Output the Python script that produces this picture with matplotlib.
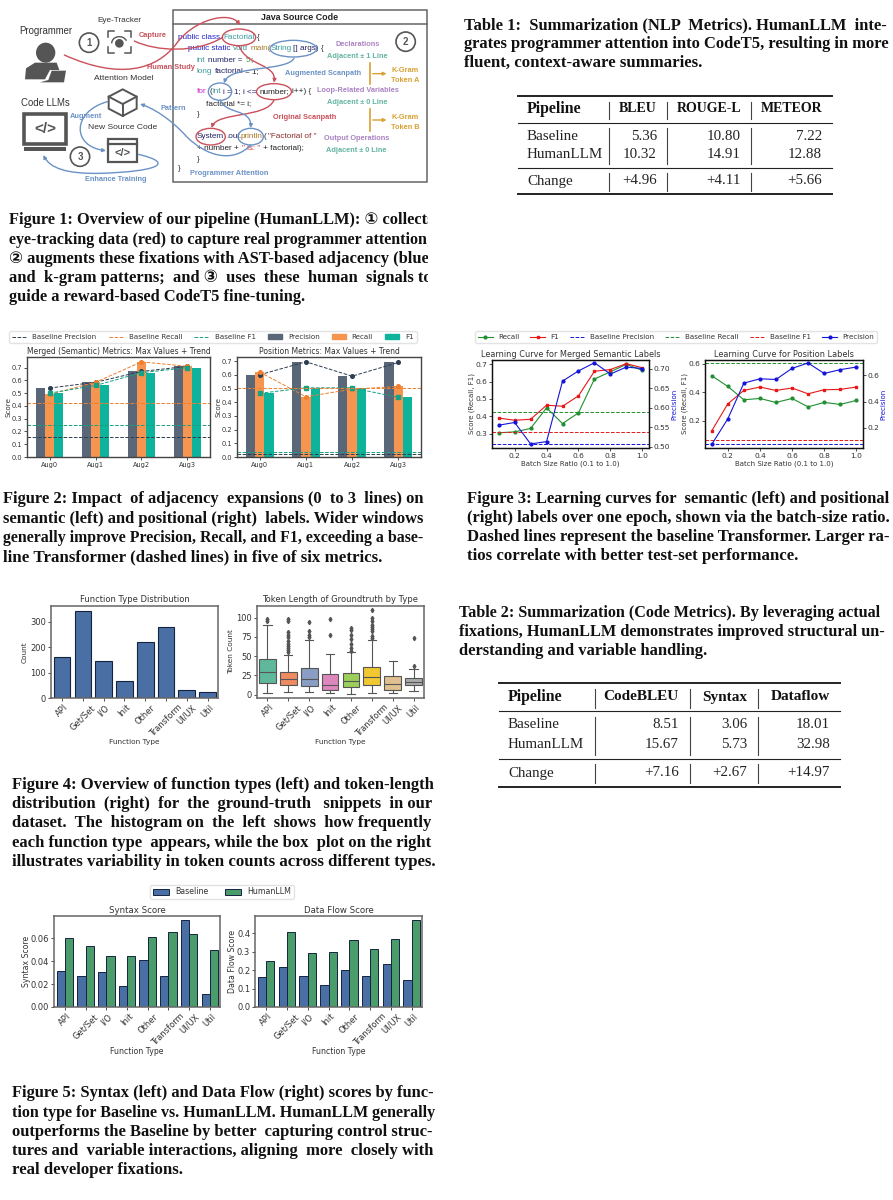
import matplotlib
matplotlib.use('Agg')
import matplotlib.pyplot as plt
import numpy as np
from matplotlib.patches import Rectangle, Ellipse, FancyArrowPatch, Polygon, Arc
from matplotlib.path import Path
from matplotlib.lines import Line2D
from matplotlib.transforms import Bbox

W, H = 893, 1200
SERIF = ['Liberation Serif', 'DejaVu Sans']
SANS = 'Liberation Sans'
TXT = '#333333'

# --- fig 2 data
augs = ['Aug0', 'Aug1', 'Aug2', 'Aug3']
sem_precision = [0.54, 0.585, 0.67, 0.71]
sem_recall = [0.49, 0.585, 0.745, 0.71]
sem_f1 = [0.50, 0.56, 0.66, 0.70]
sem_base = [0.16, 0.425, 0.25]
pos_precision = [0.60, 0.695, 0.59, 0.69]
pos_recall = [0.62, 0.44, 0.495, 0.515]
pos_f1 = [0.465, 0.505, 0.505, 0.435]
pos_base = [0.02, 0.505, 0.04]

# --- fig 3 data
ratios = [0.1, 0.2, 0.3, 0.4, 0.5, 0.6, 0.7, 0.8, 0.9, 1.0]
lc_sem_recall = [0.305, 0.31, 0.33, 0.449, 0.358, 0.42, 0.615, 0.657, 0.70, 0.665]
lc_sem_f1 = [0.39, 0.377, 0.383, 0.464, 0.458, 0.518, 0.66, 0.67, 0.704, 0.68]
lc_sem_precision = [0.555, 0.562, 0.507, 0.513, 0.668, 0.694, 0.715, 0.686, 0.704, 0.70]
lc_sem_base = [0.238, 0.426, 0.307]
lc_pos_recall = [0.517, 0.441, 0.347, 0.356, 0.328, 0.356, 0.297, 0.328, 0.314, 0.342]
lc_pos_f1 = [0.127, 0.318, 0.413, 0.437, 0.413, 0.43, 0.389, 0.418, 0.42, 0.437]
lc_pos_precision = [0.072, 0.267, 0.541, 0.574, 0.569, 0.654, 0.695, 0.615, 0.644, 0.664]
lc_pos_base = [0.033, 0.605, 0.065]

# --- fig 4 data
func_types = ['API', 'Get/Set', 'I/O', 'Init', 'Other', 'Transform', 'UI/UX', 'Util']
type_counts = [162, 345, 146, 66, 222, 282, 31, 24]
box_q1 = [15, 12, 11, 6, 10, 12, 6, 13]
box_med = [29, 20, 20, 13, 18, 23, 14, 17]
box_q3 = [46, 29, 35, 27, 28, 36, 24, 22]
box_lo = [2, 3, 3, 2, 1, 2, 2, 5]
box_hi = [90, 51, 71, 53, 55, 71, 44, 33]
box_fliers = [[96, 98],
              [55, 58, 60, 63, 66, 70, 75, 78, 81, 96, 98],
              [75, 78, 82, 94],
              [77, 98],
              [57, 60, 66, 72, 78, 84, 86],
              [74, 76, 82, 85, 88, 91, 95, 99, 110],
              [],
              [37, 74]]
box_colors = ['#5fb89c', '#f08a60', '#8a9dc4', '#de87bd', '#9ccf5a', '#f0c832', '#e0bf90', '#ababab']

# --- fig 5 data
syntax_base = [0.0315, 0.0275, 0.0303, 0.0185, 0.041, 0.0267, 0.076, 0.011]
syntax_human = [0.0603, 0.0533, 0.0445, 0.0445, 0.061, 0.0658, 0.064, 0.05]
flow_base = [0.16, 0.217, 0.17, 0.117, 0.198, 0.165, 0.234, 0.148]
flow_human = [0.25, 0.404, 0.29, 0.297, 0.362, 0.315, 0.367, 0.468]

# --- tables
t1_cols = ['Pipeline', 'BLEU', 'ROUGE-L', 'METEOR']
t1_rows = [['Baseline', '5.36', '10.80', '7.22'],
           ['HumanLLM', '10.32', '14.91', '12.88'],
           ['Change', '+4.96', '+4.11', '+5.66']]
t2_cols = ['Pipeline', 'CodeBLEU', 'Syntax', 'Dataflow']
t2_rows = [['Baseline', '8.51', '3.06', '18.01'],
           ['HumanLLM', '15.67', '5.73', '32.98'],
           ['Change', '+7.16', '+2.67', '+14.97']]

# --- captions
cap1 = ['Figure 1: Overview of our pipeline (HumanLLM): \u2460 collects',
        'eye-tracking data (red) to capture real programmer attention;',
        '\u2461 augments these fixations with AST-based adjacency (blue)',
        'and k-gram patterns; and \u2462 uses these human signals to',
        'guide a reward-based CodeT5 fine-tuning.']
cap2 = ['Figure 2: Impact of adjacency expansions (0 to 3 lines) on',
        'semantic (left) and positional (right) labels. Wider windows',
        'generally improve Precision, Recall, and F1, exceeding a base-',
        'line Transformer (dashed lines) in five of six metrics.']
cap3 = ['Figure 3: Learning curves for semantic (left) and positional',
        '(right) labels over one epoch, shown via the batch-size ratio.',
        'Dashed lines represent the baseline Transformer. Larger ra-',
        'tios correlate with better test-set performance.']
cap4 = ['Figure 4: Overview of function types (left) and token-length',
        'distribution (right) for the ground-truth snippets in our',
        'dataset. The histogram on the left shows how frequently',
        'each function type appears, while the box plot on the right',
        'illustrates variability in token counts across different types.']
cap5 = ['Figure 5: Syntax (left) and Data Flow (right) scores by func-',
        'tion type for Baseline vs. HumanLLM. HumanLLM generally',
        'outperforms the Baseline by better capturing control struc-',
        'tures and variable interactions, aligning more closely with',
        'real developer fixations.']
tcap1 = ['Table 1: Summarization (NLP Metrics). HumanLLM inte-',
         'grates programmer attention into CodeT5, resulting in more',
         'fluent, context-aware summaries.']
tcap2 = ['Table 2: Summarization (Code Metrics). By leveraging actual',
         'fixations, HumanLLM demonstrates improved structural un-',
         'derstanding and variable handling.']

fig = plt.figure(figsize=(W / 100, H / 100), dpi=100, facecolor='white')
renderer = fig.canvas.get_renderer()


def px_axes(x0, y0, x1, y1):
    return fig.add_axes([x0 / W, 1 - y1 / H, (x1 - x0) / W, (y1 - y0) / H])


def style(ax, spine='#555555', lw=1.0, ticksize=5, color=TXT):
    for s in ax.spines.values():
        s.set_color(spine)
        s.set_linewidth(lw)
    ax.tick_params(labelsize=ticksize, length=2, width=0.6, pad=1.5, colors=color)


# page overlay for captions and tables, in pixels
page = fig.add_axes([0, 0, 1, 1], zorder=5)
page.set_xlim(0, W)
page.set_ylim(H, 0)
page.axis('off')
page.patch.set_alpha(0)


def fit_line(t, line, target, size):
    # widen the word gaps like justified text, then a small font fit for the rest
    words = line.split(' ')
    gaps = [1] * (len(words) - 1)
    k = 0
    while t.get_window_extent(renderer).width < target - 3 and k < 60:
        k += 1
        idx = int((k * 0.618 % 1) * len(gaps))
        gaps[idx] += 1
        t.set_text(''.join(w + ' ' * g for w, g in zip(words, gaps + [0])))
        if t.get_window_extent(renderer).width > target:
            gaps[idx] -= 1
            t.set_text(''.join(w + ' ' * g for w, g in zip(words, gaps + [0])))
            break
    t.set_fontsize(size * target / t.get_window_extent(renderer).width)


def caption(lines, x0, x1, ys, last_w, size=11.9, clip_x=None):
    for i, (line, y) in enumerate(zip(lines, ys)):
        t = page.text(x0, y, line, family=SERIF, weight='bold', fontsize=size,
                      color='#111111', va='center', ha='left')
        if i < len(lines) - 1:
            fit_line(t, line, x1 - x0, size)
        else:
            t.set_fontsize(size * last_w / t.get_window_extent(renderer).width)
        if clip_x is not None:
            t.set_clip_on(True)
            t.set_clip_box(Bbox([[0, 0], [clip_x, H]]))


caption(cap1, 9, 433, [220, 240, 259, 278, 297], 296, clip_x=428)
caption(cap2, 3, 424, [499, 519, 538, 557], 377)
caption(cap3, 467, 890, [499, 518, 537, 556], 330)
caption(cap4, 12, 433, [785, 804, 823, 843, 862], 421)
caption(cap5, 12, 433, [1093, 1113, 1132, 1151, 1170], 171)
caption(tcap1, 464, 888, [25, 44, 63], 238)
caption(tcap2, 459, 882, [613, 632, 651], 248)


def table(cols, rows, x0, x1, rules, vlines, spans, left, rights, ys, head):
    for i, y in enumerate(rules):
        page.plot([x0, x1], [y, y], color='#222222', lw=1.4 if i in (0, 3) else 0.8)
    for v in vlines:
        for a, b in spans:
            page.plot([v, v], [a, b], color='#444444', lw=0.8)
    xs = [left] + rights
    for j, c in enumerate(cols):
        page.text(xs[j], ys[0], c, family=SERIF, weight='bold', fontsize=11.4 if j == 0 else head,
                  color='#111111', va='center', ha='left' if j == 0 else 'right')
    for i, row in enumerate(rows):
        for j, c in enumerate(row):
            page.text(xs[j], ys[i + 1], c, family=SERIF, fontsize=10.8, color='#222222',
                      va='center', ha='left' if j == 0 else 'right')


table(t1_cols, t1_rows, 518, 832, [96, 123, 168, 194], [609, 667, 751],
      [(102, 119), (128, 164), (173, 191)], 527, [657, 741, 822], [109, 136, 154, 181], 10.0)
table(t2_cols, t2_rows, 499, 840, [683, 711, 759, 787], [595, 690, 758],
      [(689, 708), (717, 755), (764, 783)], 508, [679, 747, 830], [697, 725, 745, 773], 11.0)

# --- figure 1 schematic, drawn in zoomed pixel units (3x)
dg = px_axes(0, 0, 445, 200)
dg.set_xlim(0, 1335)
dg.set_ylim(600, 0)
dg.axis('off')
RED = '#c9505a'
BLUE = '#6a92c6'
PURPLE = '#ab82c4'
TEAL = '#62b5a2'
ORANGE = '#d9a033'
GREY = '#555555'


def lab(x, y, s, color=TXT, size=5.6, weight='normal', ha='center'):
    dg.text(x, y, s, color=color, fontsize=size, weight=weight, family=SANS, ha=ha, va='center')


def curve(pts, color, arrow=True, lw=1.0):
    codes = [Path.MOVETO] + [Path.CURVE4] * (len(pts) - 1)
    dg.add_patch(FancyArrowPatch(path=Path(pts, codes), arrowstyle='-|>' if arrow else '-',
                                 mutation_scale=5, color=color, lw=lw, zorder=4))


dg.add_patch(Rectangle((520, 30), 760, 515, fc='none', ec='#666666', lw=1.1))
dg.plot([520, 1280], [72, 72], color='#666666', lw=1.1)
lab(898, 53, 'Java Source Code', '#222222', 6.4, 'bold')

for label, x, y, sz in [('Programmer', 137, 94, 6.9), ('Eye-Tracker', 358, 63, 5.9), ('Attention Model', 370, 235, 6.1),
                        ('Code LLMs', 137, 308, 6.9), ('New Source Code', 368, 383, 6.1)]:
    lab(x, y, label, '#333333', sz)
for n, x, y in [('1', 267, 128), ('2', 1217, 125), ('3', 240, 470)]:
    dg.add_patch(Ellipse((x, y), 58, 58, fc='white', ec=GREY, lw=1.2))
    lab(x, y, n, GREY, 7, 'bold')

# programmer icon
dg.add_patch(Ellipse((137, 158), 58, 60, fc=GREY, ec='none'))
dg.add_patch(Polygon([(75, 238), (78, 205), (105, 188), (170, 188), (178, 210), (150, 210), (135, 238)],
                     fc=GREY, ec='none'))
dg.add_patch(Polygon([(155, 212), (198, 212), (192, 247), (120, 247), (145, 240)], fc=GREY, ec='none'))

# eye tracker icon
for cx, cy, dx, dy in [(323, 92, 1, 1), (393, 92, -1, 1), (323, 158, 1, -1), (393, 158, -1, -1)]:
    dg.plot([cx + 18 * dx, cx, cx], [cy, cy, cy + 18 * dy], color=GREY, lw=1.1)
dg.add_patch(Ellipse((358, 130), 26, 26, fc=GREY, ec='none'))
dg.add_patch(Arc((358, 130), 46, 40, theta1=180, theta2=340, color=GREY, lw=1.0))

# cube icon
dg.add_patch(Polygon([(368, 268), (410, 290), (410, 326), (368, 348), (326, 326), (326, 290)],
                     fc='none', ec=GREY, lw=1.4))
dg.plot([326, 368, 410], [290, 312, 290], color=GREY, lw=1.4)
dg.plot([368, 368], [312, 348], color=GREY, lw=1.4)

# monitor icon
dg.add_patch(Rectangle((73, 342), 125, 90, fc='white', ec=GREY, lw=2.6))
dg.add_patch(Rectangle((73, 440), 125, 12, fc=GREY, ec='none'))
lab(135, 388, '</>', GREY, 11, 'bold')

# new source code icon
dg.add_patch(Rectangle((325, 416), 85, 70, fc='white', ec=GREY, lw=1.6))
dg.plot([325, 410], [433, 433], color=GREY, lw=1.6)
lab(367, 460, '</>', GREY, 8, 'bold')

NAVY = '#222266'
CODE = '#2222cc'
CTEAL = '#3a9a9a'
BROWN = '#a87a2a'
code_tokens = [
    (535, 112, 'public class', CODE), (671, 112, 'Factorial', CTEAL), (772, 112, '{', '#222222'),
    (563, 146, 'public static', CODE), (700, 146, 'void', CTEAL), (753, 146, 'main(', BROWN),
    (812, 146, 'String', CTEAL), (880, 146, '[] args)', NAVY), (963, 146, '{', '#222222'),
    (590, 180, 'int', CTEAL), (623, 180, 'number =', NAVY), (738, 180, '5', '#3a9a3a'), (750, 180, ';', '#222222'),
    (590, 214, 'long', CTEAL), (645, 214, 'factorial', NAVY), (735, 214, '= 1;', '#222222'),
    (590, 275, 'for', '#cc22cc'), (628, 275, '(', '#222222'), (637, 275, 'int', CTEAL),
    (668, 275, 'i = 1; i <=', NAVY), (778, 275, 'number;', '#222222'), (875, 275, 'i++) {', '#222222'),
    (617, 310, 'factorial *= i;', '#222222'), (590, 345, '}', '#222222'),
    (590, 409, 'System', NAVY), (680, 409, '.out.', NAVY), (722, 409, 'println', BROWN), (790, 409, '(', '#222222'),
    (803, 409, '"Factorial of "', '#8a2a2a'),
    (590, 444, '+ number +', '#222222'), (725, 444, '" is: "', '#cc3333'), (790, 444, '+ factorial);', '#222222'),
    (590, 478, '}', '#222222'), (535, 507, '}', '#222222'),
]
for x, y, s, c in code_tokens:
    lab(x, y, s, c, 5.9, ha='left')

for x, y, w, h, c in [(717, 112, 100, 50, RED), (880, 146, 140, 50, BLUE), (660, 275, 70, 52, BLUE),
                      (822, 275, 105, 48, RED), (632, 410, 88, 50, RED), (752, 410, 76, 50, BLUE)]:
    dg.add_patch(Ellipse((x, y), w, h, fc='none', ec=c, lw=1.0, zorder=4))

# scanpaths
curve([(193, 165), (360, 240), (470, 210), (530, 130), (580, 60), (690, 30), (720, 75)], RED)
curve([(403, 123), (470, 155), (590, 160), (668, 112)], RED, arrow=False)
curve([(717, 137), (740, 200), (830, 190), (822, 248)], RED)
curve([(822, 300), (800, 355), (650, 335), (635, 384)], RED)
curve([(882, 175), (860, 215), (690, 195), (672, 250)], BLUE)
curve([(660, 300), (680, 345), (755, 325), (752, 384)], BLUE)
curve([(752, 435), (700, 490), (620, 470), (560, 410), (510, 355), (460, 325), (420, 312)], BLUE)
curve([(322, 305), (215, 335), (215, 440), (318, 452)], BLUE)
curve([(415, 463), (530, 490), (470, 515), (300, 520), (200, 522), (150, 505), (130, 465)], BLUE)

for x, y, s, c in [(1073, 135, 'Declarations', PURPLE), (1073, 169, 'Adjacent \u00b1 1 Line', TEAL),
                   (968, 221, 'Augmented Scanpath', BLUE), (1215, 210, 'K-Gram', ORANGE),
                   (1215, 241, 'Token A', ORANGE), (1073, 272, 'Loop-Related Variables', PURPLE),
                   (1073, 308, 'Adjacent \u00b1 0 Line', TEAL), (915, 353, 'Original Scanpath', RED),
                   (1215, 352, 'K-Gram', ORANGE), (1215, 383, 'Token B', ORANGE),
                   (1070, 414, 'Output Operations', PURPLE), (1070, 450, 'Adjacent \u00b1 0 Line', TEAL),
                   (687, 520, 'Programmer Attention', BLUE), (346, 539, 'Enhance Training', BLUE),
                   (258, 350, 'Augment', BLUE), (521, 325, 'Pattern', BLUE),
                   (458, 106, 'Capture', RED), (513, 203, 'Human Study', RED)]:
    lab(x, y, s, c, 5.3, 'bold')
for y0, y1 in [(190, 252), (328, 392)]:
    ym = (y0 + y1) / 2
    dg.plot([1110, 1110], [y0, y1], color=ORANGE, lw=1.2)
    dg.add_patch(FancyArrowPatch((1110, ym), (1168, ym), arrowstyle='-|>', mutation_scale=5, color=ORANGE, lw=1.0))

# --- figure 2
P_COL, R_COL, F_COL = '#5a6778', '#f5954f', '#0db39a'
P_DK, R_DK, F_DK = '#2c3e50', '#f07f2e', '#16a085'


def metric_axes(box, title, prec, rec, f1, base, ymax, yticks):
    ax = px_axes(*box)
    x = np.arange(len(augs))
    w = 0.2
    ax.bar(x - w, prec, w, color=P_COL)
    ax.bar(x, rec, w, color=R_COL)
    ax.bar(x + w, f1, w, color=F_COL)
    ax.plot(x, prec, '--o', color=P_DK, lw=0.7, ms=2.6)
    ax.plot(x, rec, '--o', color=R_DK, lw=0.7, ms=2.6)
    ax.plot(x, f1, '--s', color=F_DK, lw=0.7, ms=2.6)
    for v, c in zip(base, [P_DK, R_DK, F_DK]):
        ax.axhline(v, color=c, ls='--', lw=0.7)
    ax.set_xlim(-0.49, 3.49)
    ax.set_ylim(0, ymax)
    ax.set_xticks(x, augs)
    ax.set_yticks(yticks)
    ax.set_ylabel('Score', fontsize=5.1, color=TXT, labelpad=-0.2)
    ax.set_title(title, fontsize=5.5, color=TXT, pad=2.5)
    style(ax, spine='#444444', ticksize=4.8)


metric_axes((27, 357, 210, 457), 'Merged (Semantic) Metrics: Max Values + Trend',
            sem_precision, sem_recall, sem_f1, sem_base, 0.783, np.arange(0, 0.71, 0.1))
metric_axes((237, 357, 421, 457), 'Position Metrics: Max Values + Trend',
            pos_precision, pos_recall, pos_f1, pos_base, 0.73, np.arange(0, 0.71, 0.1))

h2 = [Line2D([], [], color=P_DK, ls='--', lw=0.7), Line2D([], [], color=R_DK, ls='--', lw=0.7),
      Line2D([], [], color=F_DK, ls='--', lw=0.7), Rectangle((0, 0), 1, 1, color=P_COL),
      Rectangle((0, 0), 1, 1, color=R_COL), Rectangle((0, 0), 1, 1, color=F_COL)]
fig.legend(h2, ['Baseline Precision', 'Baseline Recall', 'Baseline F1', 'Precision', 'Recall', 'F1'],
           ncol=6, fontsize=5.1, loc='center', bbox_to_anchor=(213 / W, 1 - 337 / H), columnspacing=1.7,
           handlelength=2.0, handletextpad=0.85, borderpad=0.4, labelcolor=TXT, edgecolor='#dddddd',
           fancybox=True, framealpha=0.8)

# --- figure 3
G_LC, R_LC, B_LC = '#1f8f2f', '#e81818', '#1414d8'


def curve_axes(box, title, rec, f1, prec, base, lims, rlims, lticks, rticks, rfmt):
    ax = px_axes(*box)
    ax.plot(ratios, rec, '-o', color=G_LC, lw=0.8, ms=2)
    ax.plot(ratios, f1, '-s', color=R_LC, lw=0.8, ms=2)
    ax.axhline(base[0], color=B_LC, ls='--', lw=0.7)
    ax.axhline(base[1], color=G_LC, ls='--', lw=0.7)
    ax.axhline(base[2], color=R_LC, ls='--', lw=0.7)
    ax.set_xlim(0.058, 1.042)
    ax.set_ylim(*lims)
    ax.set_xticks([0.2, 0.4, 0.6, 0.8, 1.0])
    ax.set_yticks(lticks)
    ax.set_xlabel('Batch Size Ratio (0.1 to 1.0)', fontsize=5, color=TXT, labelpad=1)
    ax.set_ylabel('Score (Recall, F1)', fontsize=5, color=TXT, labelpad=0)
    ax.set_title(title, fontsize=5.85, color=TXT, pad=2.5)
    style(ax, spine='#111111', lw=0.9, ticksize=5.4)
    tw = ax.twinx()
    tw.plot(ratios, prec, '-o', color=B_LC, lw=0.8, ms=2)
    tw.set_ylim(*rlims)
    tw.set_yticks(rticks, [rfmt % v for v in rticks])
    tw.set_ylabel('Precision', fontsize=5, color=B_LC, labelpad=0.5)
    style(tw, spine='#111111', lw=0.9, ticksize=5.4)


curve_axes((492, 360, 649, 448), 'Learning Curve for Merged Semantic Labels',
           lc_sem_recall, lc_sem_f1, lc_sem_precision, lc_sem_base, (0.217, 0.725), (0.4966, 0.722),
           [0.3, 0.4, 0.5, 0.6, 0.7], [0.50, 0.55, 0.60, 0.65, 0.70], '%.2f')
curve_axes((705, 360, 863, 448), 'Learning Curve for Position Labels',
           lc_pos_recall, lc_pos_f1, lc_pos_precision, lc_pos_base, (0.006, 0.628), (0.044, 0.718),
           [0.2, 0.4, 0.6], [0.2, 0.4, 0.6], '%.1f')

h3 = [Line2D([], [], color=G_LC, marker='o', ms=2, lw=0.8), Line2D([], [], color=R_LC, marker='s', ms=2, lw=0.8),
      Line2D([], [], color=B_LC, ls='--', lw=0.7), Line2D([], [], color=G_LC, ls='--', lw=0.7),
      Line2D([], [], color=R_LC, ls='--', lw=0.7), Line2D([], [], color=B_LC, marker='o', ms=2, lw=0.8)]
fig.legend(h3, ['Recall', 'F1', 'Baseline Precision', 'Baseline Recall', 'Baseline F1', 'Precision'],
           ncol=6, fontsize=5.1, loc='center', bbox_to_anchor=(676 / W, 1 - 337 / H), columnspacing=1.6,
           handlelength=2.1, handletextpad=0.7, borderpad=0.4, labelcolor=TXT, edgecolor='#dddddd',
           fancybox=True, framealpha=0.8)

# --- figure 4
BAR_BLUE, BAR_GREEN, BAR_EDGE = '#4a6fa5', '#4a9c6a', '#14233f'
x8 = np.arange(len(func_types))

ax4a = px_axes(51, 606, 218, 698)
ax4a.bar(x8, type_counts, 0.8, color=BAR_BLUE, edgecolor=BAR_EDGE, lw=0.8)
ax4a.set_xlim(-0.53, 7.5)
ax4a.set_ylim(0, 363)
ax4a.set_yticks([0, 100, 200, 300])
ax4a.set_xticks(x8, func_types, rotation=45)
ax4a.set_ylabel('Count', fontsize=5.3, color=TXT, labelpad=2)
ax4a.set_xlabel('Function Type', fontsize=5.3, color=TXT, labelpad=0.5)
ax4a.set_title('Function Type Distribution', fontsize=6, color=TXT, pad=3)
style(ax4a, spine='#666666', lw=1.1, ticksize=6)

ax4b = px_axes(257, 606, 424, 698)
stats = [dict(q1=box_q1[i], med=box_med[i], q3=box_q3[i], whislo=box_lo[i], whishi=box_hi[i],
              fliers=box_fliers[i]) for i in range(len(func_types))]
bp = ax4b.bxp(stats, positions=x8, widths=0.8, patch_artist=True,
              boxprops=dict(edgecolor='#555555', lw=0.8),
              medianprops=dict(color='#555555', lw=0.8),
              whiskerprops=dict(color='#555555', lw=0.8),
              capprops=dict(color='#555555', lw=0.8),
              flierprops=dict(marker='d', ms=2.2, mfc='#555555', mec='#555555'))
for b, c in zip(bp['boxes'], box_colors):
    b.set_facecolor(c)
ax4b.set_xlim(-0.5, 7.5)
ax4b.set_ylim(-4.3, 115)
ax4b.set_yticks([0, 25, 50, 75, 100])
ax4b.set_xticks(x8, func_types, rotation=45)
ax4b.set_ylabel('Token Count', fontsize=5.3, color=TXT, labelpad=1.5)
ax4b.set_xlabel('Function Type', fontsize=5.3, color=TXT, labelpad=0.5)
ax4b.set_title('Token Length of Groundtruth by Type', fontsize=6, color=TXT, pad=3)
style(ax4b, spine='#666666', lw=1.1, ticksize=6)


# --- figure 5
def score_axes(box, title, base, human, ymax, yticks, fmt):
    ax = px_axes(*box)
    ax.bar(x8 - 0.2, base, 0.4, color=BAR_BLUE, edgecolor=BAR_EDGE, lw=0.7)
    ax.bar(x8 + 0.2, human, 0.4, color=BAR_GREEN, edgecolor=BAR_EDGE, lw=0.7)
    ax.set_xlim(-0.53, 7.49)
    ax.set_ylim(0, ymax)
    ax.set_yticks(yticks, [fmt % v for v in yticks])
    ax.set_xticks(x8, func_types, rotation=45)
    ax.set_ylabel(title, fontsize=5.6, color=TXT, labelpad=0)
    ax.set_xlabel('Function Type', fontsize=5.6, color=TXT, labelpad=-0.5)
    ax.set_title(title, fontsize=6.2, color=TXT, pad=2.5)
    style(ax, spine='#666666', lw=1.1, ticksize=6.0)


score_axes((54, 916, 220, 1007), 'Syntax Score', syntax_base, syntax_human, 0.0796,
           [0, 0.02, 0.04, 0.06], '%.2f')
score_axes((255, 916, 422, 1007), 'Data Flow Score', flow_base, flow_human, 0.492,
           [0, 0.1, 0.2, 0.3, 0.4], '%.1f')

h5 = [Rectangle((0, 0), 1, 1, fc=BAR_BLUE, ec=BAR_EDGE, lw=0.7), Rectangle((0, 0), 1, 1, fc=BAR_GREEN, ec=BAR_EDGE, lw=0.7)]
fig.legend(h5, ['Baseline', 'HumanLLM'], ncol=2, fontsize=5.7, loc='center', bbox_to_anchor=(222 / W, 1 - 892 / H),
           columnspacing=2.0, handlelength=2.1, handletextpad=0.8, borderpad=0.3, labelcolor=TXT,
           edgecolor='#dddddd', fancybox=True, framealpha=0.8)

fig.savefig('out.png', dpi=100)
